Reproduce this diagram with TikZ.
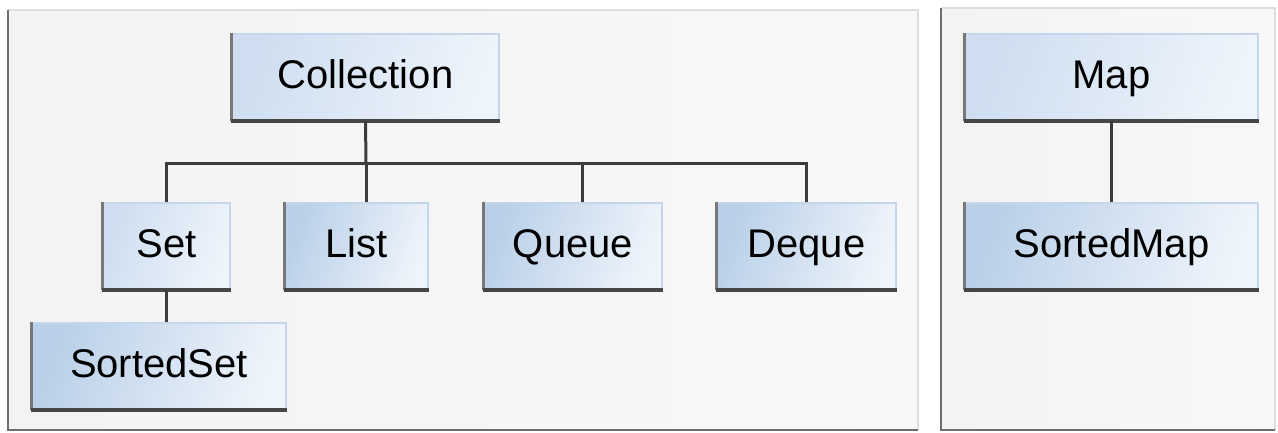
\documentclass[tikz,border=0pt]{standalone}
\usepackage{fontspec}
\setmainfont{Liberation Sans}
\usetikzlibrary{positioning}
\definecolor{panelBg}{RGB}{243,243,243}
\definecolor{panelEdge}{RGB}{222,222,222}
\definecolor{panelDark}{RGB}{110,110,110}
\definecolor{boxLight}{RGB}{206,222,240}
\definecolor{boxDeep}{RGB}{186,208,232}
\definecolor{boxPale}{RGB}{238,244,251}
\definecolor{boxEdge}{RGB}{196,214,235}
\definecolor{boxSide}{RGB}{120,120,120}
\definecolor{boxShade}{RGB}{70,70,70}
\definecolor{linkColor}{RGB}{60,60,60}
\tikzset{
  iface/.style={rectangle, inner sep=0pt, minimum height=86pt,
    left color=boxLight, right color=boxPale, shading angle=70,
    draw=boxEdge, line width=2pt,
    text height=29pt, text depth=6pt,
    font=\fontsize{40}{48}\selectfont},
  subiface/.style={iface, left color=boxDeep, right color=boxPale, shading angle=70},
  sideline/.style={draw=boxSide, line width=3pt},
  shadeline/.style={draw=boxShade, line width=3.5pt},
  link/.style={draw=linkColor, line width=3pt}
}

\begin{document}
\begin{tikzpicture}[x=1pt,y=-1pt]
    \useasboundingbox (0,0) rectangle (1278,432);
    \fill[white] (0,0) rectangle (1278,432);

    % panels
    \fill[left color=panelBg, right color=panelBg!60!white] (8,10) rectangle (918,430);
    \draw[panelEdge, line width=2pt] (8,10) -- (918,10) -- (918,430);
    \draw[panelDark, line width=2.5pt] (8,10) -- (8,430) -- (918,430);
    \fill[left color=panelBg, right color=panelBg!60!white] (941,8) rectangle (1275,430);
    \draw[panelEdge, line width=2pt] (941,8) -- (1275,8) -- (1275,430);
    \draw[panelDark, line width=2.5pt] (941,8) -- (941,430) -- (1275,430);

    % collection side
    \node[iface, minimum width=267pt] (coll) at (365.5,77) {Collection};
    \node[iface, minimum width=127pt] (set) at (166.5,246) {Set};
    \node[subiface, minimum width=143pt] (list) at (356.5,246) {List};
    \node[subiface, minimum width=178pt] (queue) at (573,246) {Queue};
    \node[subiface, minimum width=179pt] (deque) at (806.5,246) {Deque};
    \node[subiface, minimum width=254pt] (sset) at (159,366) {SortedSet};

    % map side
    \node[iface, minimum width=293pt] (map) at (1111.5,77) {Map};
    \node[subiface, minimum width=293pt] (smap) at (1111.5,246) {SortedMap};

    \foreach \n in {coll,set,list,queue,deque,sset,map,smap}{
      \draw[sideline] (\n.north west) -- (\n.south west);
      \draw[shadeline] (\n.south west) -- (\n.south east);
    }

    \coordinate (bar) at (366,163);
    \draw[link] (coll.south) -- (bar);
    \draw[link] (bar) -| (set.north);
    \draw[link] (bar) -- (list.north -| bar);
    \draw[link] (bar) -| ([xshift=9pt]queue.north);
    \draw[link] (bar) -| (deque.north);
    \draw[link] (set.south) -- (set.south |- sset.north);
    \draw[link] (map.south) -- (map.south |- smap.north);
\end{tikzpicture}
\end{document}
